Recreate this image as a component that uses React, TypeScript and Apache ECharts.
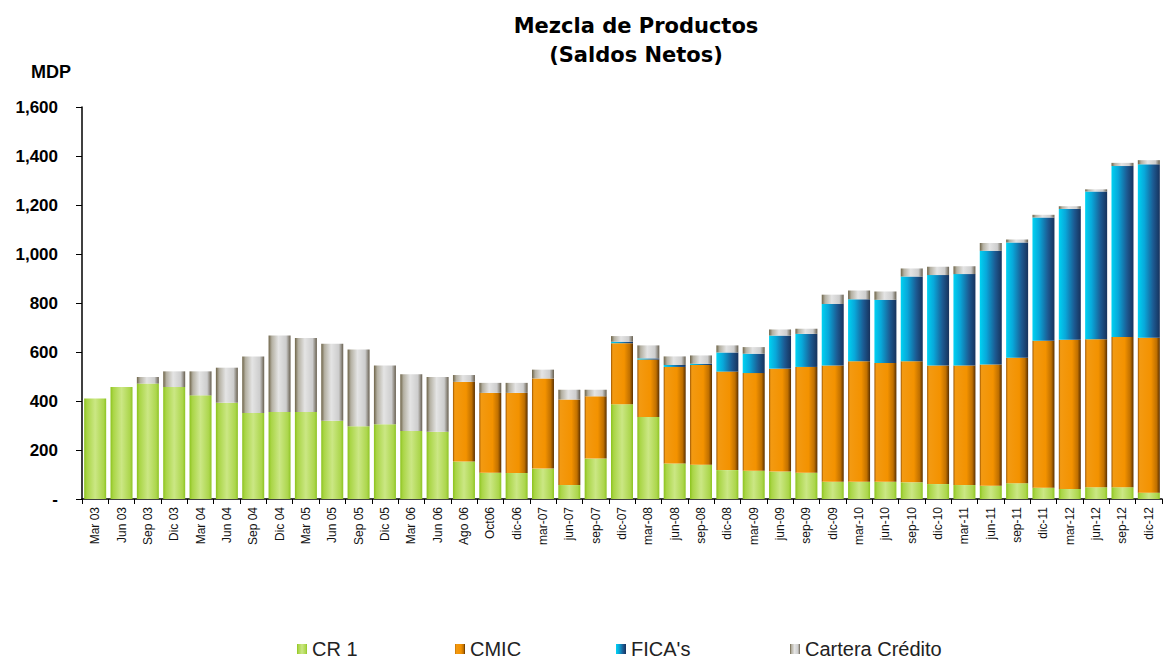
import React, { useEffect, useRef } from "react";
import * as echarts from "echarts";

const categories = [
  "Mar 03", "Jun 03", "Sep 03", "Dic 03", "Mar 04", "Jun 04", "Sep 04", "Dic 04",
  "Mar 05", "Jun 05", "Sep 05", "Dic 05", "Mar 06", "Jun 06", "Ago 06", "Oct06",
  "dic-06", "mar-07", "jun-07", "sep-07", "dic-07", "mar-08", "jun-08", "sep-08",
  "dic-08", "mar-09", "jun-09", "sep-09", "dic-09", "mar-10", "jun-10", "sep-10",
  "dic-10", "mar-11", "jun-11", "sep-11", "dic-11", "mar-12", "jun-12", "sep-12", "dic-12",
];

const cr1 = [
  410, 457, 471, 457, 423, 393, 351, 355, 355, 319, 297, 305, 278, 274, 153, 107,
  106, 124, 57, 165, 387, 335, 145, 140, 118, 115, 112, 107, 70, 70, 70, 68,
  61, 57, 54, 64, 46, 41, 48, 48, 26,
];

const cmic = [
  0, 0, 0, 0, 0, 0, 0, 0, 0, 0, 0, 0, 0, 0, 325, 326,
  327, 368, 349, 254, 249, 234, 394, 407, 402, 399, 420, 432, 475, 492, 485, 494,
  484, 488, 495, 513, 600, 609, 604, 613, 632,
];

const ficas = [
  0, 0, 0, 0, 0, 0, 0, 0, 0, 0, 0, 0, 0, 0, 0, 0,
  0, 0, 0, 0, 6, 5, 8, 5, 78, 79, 135, 135, 251, 253, 258, 346,
  369, 373, 464, 470, 503, 534, 603, 698, 708,
];

const cartera = [
  0, 0, 27, 64, 98, 143, 231, 312, 302, 315, 313, 240, 231, 224, 28, 41,
  41, 36, 40, 27, 23, 53, 35, 34, 29, 27, 25, 21, 38, 36, 34, 33,
  34, 32, 32, 12, 11, 11, 9, 13, 17,
];

const yTicks = [0, 200, 400, 600, 800, 1000, 1200, 1400, 1600];

const grad = (stops: [number, string][]) => ({
  type: "linear",
  x: 0,
  y: 0,
  x2: 1,
  y2: 0,
  colorStops: stops.map(([offset, color]) => ({ offset, color })),
});

const greenFill = grad([
  [0, "#8cc21e"],
  [0.12, "#a9d545"],
  [0.5, "#cbe784"],
  [0.88, "#acd64c"],
  [1, "#8ec424"],
]);
const orangeFill = grad([
  [0, "#9a5400"],
  [0.08, "#f39a12"],
  [0.6, "#f39200"],
  [0.85, "#c07000"],
  [1, "#5a3000"],
]);
const blueFill = grad([
  [0, "#00d2f2"],
  [0.3, "#08a8da"],
  [0.7, "#1c5a92"],
  [1, "#17325c"],
]);
const grayFill = grad([
  [0, "#6e6448"],
  [0.15, "#b4b0a2"],
  [0.45, "#e4e4e4"],
  [0.8, "#cdcdcd"],
  [1, "#686050"],
]);

const fontFam = "'Liberation Sans', Arial, sans-serif";

export default function App() {
  const ref = useRef<HTMLDivElement>(null);

  useEffect(() => {
    if (!ref.current) return;
    const chart = echarts.init(ref.current, undefined, { renderer: "svg" });
    const mkSeries = (name: string, data: number[], color: any) => ({
      name,
      type: "bar",
      stack: "total",
      data,
      barWidth: 22,
      itemStyle: { color },
      emphasis: { disabled: true },
    });
    const legendItem = (name: string, left: number) => ({
      data: [name],
      left,
      top: 634,
      itemWidth: 10,
      itemHeight: 10,
      icon: "rect",
      itemGap: 0,
      textStyle: { fontSize: 20, color: "#222", fontFamily: fontFam },
      selectedMode: false,
    });
    chart.setOption({
      animation: false,
      backgroundColor: "#ffffff",
      title: [
        {
          text: "Mezcla de Productos\n(Saldos Netos)",
          left: 631,
          textAlign: "center",
          top: 6,
          textStyle: {
            fontFamily: "'DejaVu Sans', sans-serif",
            fontWeight: "bold",
            fontSize: 21,
            lineHeight: 29,
            color: "#000",
          },
        },
        {
          text: "MDP",
          left: 26,
          top: 58,
          textStyle: {
            fontFamily: fontFam,
            fontWeight: "bold",
            fontSize: 18,
            color: "#000",
          },
        },
      ],
      legend: [
        legendItem("CR 1", 292),
        legendItem("CMIC", 450),
        legendItem("FICA's", 611),
        legendItem("Cartera Crédito", 785),
      ],
      grid: { left: 82, right: 1, top: 107, bottom: 161, containLabel: false },
      xAxis: {
        type: "category",
        data: categories,
        axisLine: { show: true, lineStyle: { color: "#000", width: 1.5 } },
        axisTick: { show: true, length: 5, lineStyle: { color: "#000" } },
        axisLabel: {
          rotate: 90,
          interval: 0,
          fontSize: 12,
          margin: 8,
          color: "#111",
          fontFamily: fontFam,
        },
      },
      yAxis: {
        type: "value",
        min: 0,
        max: 1600,
        interval: 200,
        axisLine: { show: true, lineStyle: { color: "#000", width: 1.5 } },
        axisTick: { show: true, length: 6, lineStyle: { color: "#000" } },
        axisLabel: {
          fontSize: 17,
          fontWeight: "bold",
          color: "#000",
          margin: 24,
          fontFamily: fontFam,
          formatter: (v: number) =>
            yTicks.includes(v) && v === 0 ? "-" : v.toLocaleString("en-US"),
        },
        splitLine: {
          show: true,
          lineStyle: {
            color: "#4a4a4a",
            width: 2,
            shadowColor: "#c0c0c0",
            shadowOffsetY: 2,
            shadowBlur: 0,
          },
        },
      },
      series: [
        mkSeries("CR 1", cr1, greenFill),
        mkSeries("CMIC", cmic, orangeFill),
        mkSeries("FICA's", ficas, blueFill),
        mkSeries("Cartera Crédito", cartera, grayFill),
      ],
    });
    return () => chart.dispose();
  }, []);

  return (
    <div
      ref={ref}
      style={{ position: "absolute", left: 0, top: 0, width: 1163, height: 660 }}
    />
  );
}
